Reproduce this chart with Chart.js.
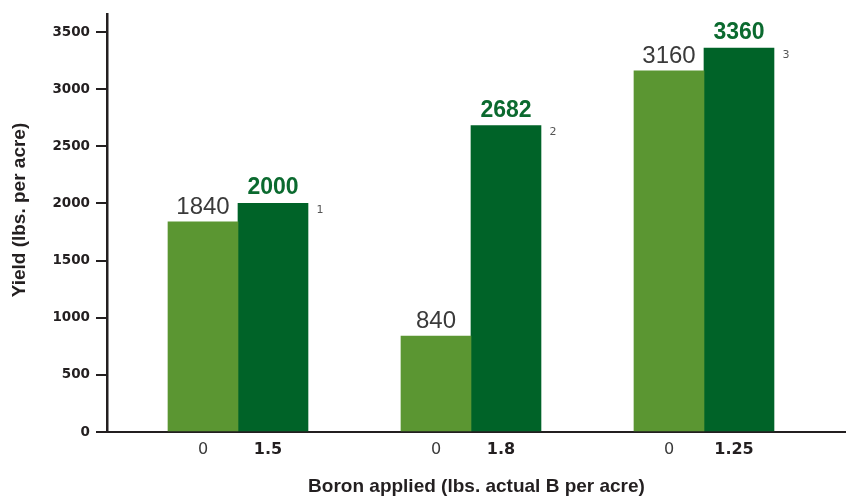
<!DOCTYPE html>
<html>
<head>
<meta charset="utf-8">
<title>Boron applied vs. yield</title>
<script src="https://cdn.jsdelivr.net/npm/chart.js@4/dist/chart.umd.min.js"></script>
<style>
  html, body { margin: 0; padding: 0; background: #ffffff; }
  #wrap { width: 846px; height: 498px; }
</style>
</head>
<body>
<div id="wrap"><canvas id="chart" width="846" height="498"></canvas></div>
<script>
// Trial sites (plotted at x = 1, 2, 3)
const trials = [1, 2, 3];
// Yield without boron (lbs. per acre)
const controlYield = [1840, 840, 3160];
// Yield with boron applied (lbs. per acre)
const boronYield = [2000, 2682, 3360];
// Boron rate under each bar (lbs. actual B per acre)
const controlRate = ['0', '0', '0'];
const boronRate = ['1.5', '1.8', '1.25'];
// Footnote markers beside the treated bars
const footnotes = ['1', '2', '3'];
// Y axis tick values
const yTicks = [0, 500, 1000, 1500, 2000, 2500, 3000, 3500];
const yTitle = 'Yield (lbs. per acre)';

const INK = '#231f20';
const LIGHT_GREEN = '#5b9632';
const DARK_GREEN = '#006328';
const LABEL_GREEN = '#0b6a2f';

// Value labels, boron rate labels, footnote markers and the y axis title
const barLabels = {
  id: 'barLabels',
  afterDatasetsDraw(chart) {
    const ctx = chart.ctx;
    const area = chart.chartArea;
    const xBottom = chart.scales.x.top;
    const metaCtl = chart.getDatasetMeta(0);
    const metaB = chart.getDatasetMeta(1);
    ctx.save();
    metaCtl.data.forEach((bar, i) => {
      ctx.textAlign = 'center';
      ctx.textBaseline = 'alphabetic';
      ctx.fillStyle = '#3a3a3a';
      ctx.font = '24px "Liberation Sans", Arial, sans-serif';
      ctx.fillText(String(controlYield[i]), bar.x, bar.y - 8);
      ctx.textBaseline = 'middle';
      ctx.font = '16px "DejaVu Sans", sans-serif';
      ctx.fillStyle = '#3a3a3a';
      ctx.fillText(controlRate[i], bar.x, xBottom + 18);
    });
    metaB.data.forEach((bar, i) => {
      ctx.textAlign = 'center';
      ctx.textBaseline = 'alphabetic';
      ctx.fillStyle = LABEL_GREEN;
      ctx.font = 'bold 23px "Liberation Sans", Arial, sans-serif';
      ctx.fillText(String(boronYield[i]), bar.x, bar.y - 9);
      ctx.textBaseline = 'middle';
      ctx.font = 'bold 16px "DejaVu Sans", sans-serif';
      ctx.fillStyle = INK;
      ctx.fillText(boronRate[i], bar.x - 5, xBottom + 18);
      ctx.font = '11px "DejaVu Sans", sans-serif';
      ctx.fillStyle = '#555555';
      ctx.fillText(footnotes[i], bar.x + bar.width / 2 + 12, bar.y + 7);
    });
    // y axis title, rotated, sitting a little above the middle of the plot
    ctx.translate(20, (area.top + area.bottom) / 2 - 13);
    ctx.rotate(-Math.PI / 2);
    ctx.textAlign = 'center';
    ctx.textBaseline = 'middle';
    ctx.fillStyle = INK;
    ctx.font = 'bold 19px "Liberation Sans", Arial, sans-serif';
    ctx.fillText(yTitle, 0, 0);
    ctx.restore();
  }
};

new Chart(document.getElementById('chart'), {
  type: 'bar',
  data: {
    datasets: [
      {
        label: 'No boron',
        data: trials.map((t, i) => ({ x: t, y: controlYield[i] })),
        backgroundColor: LIGHT_GREEN,
        borderWidth: 0
      },
      {
        label: 'Boron applied',
        data: trials.map((t, i) => ({ x: t, y: boronYield[i] })),
        backgroundColor: DARK_GREEN,
        borderWidth: 0
      }
    ]
  },
  options: {
    responsive: false,
    animation: false,
    events: [],
    barThickness: 70,
    layout: { padding: { top: 12, right: 0, bottom: 0, left: 0 } },
    plugins: {
      legend: { display: false },
      tooltip: { enabled: false }
    },
    scales: {
      x: {
        type: 'linear',
        min: 0.4378,
        max: 3.6095,
        grid: { display: false },
        border: { display: true, color: INK, width: 2 },
        ticks: { display: false },
        afterBuildTicks(scale) { scale.ticks = []; },
        afterFit(scale) { scale.height = 66; },
        title: {
          display: true,
          text: 'Boron applied (lbs. actual B per acre)',
          color: INK,
          font: { family: '"Liberation Sans", Arial, sans-serif', size: 19, weight: 'bold' },
          padding: 0
        }
      },
      y: {
        min: 0,
        max: 3657,
        grid: {
          drawOnChartArea: false,
          drawTicks: true,
          tickLength: 11,
          color: INK,
          lineWidth: 2
        },
        border: { display: true, color: INK, width: 2.5 },
        afterBuildTicks(scale) { scale.ticks = yTicks.map(v => ({ value: v })); },
        afterFit(scale) { scale.width = 107; },
        ticks: {
          color: INK,
          padding: 6,
          font: { family: '"DejaVu Sans", sans-serif', size: 13.5, weight: 'bold' },
          callback: (v) => String(v)
        }
      }
    }
  },
  plugins: [barLabels]
});
</script>
</body>
</html>
